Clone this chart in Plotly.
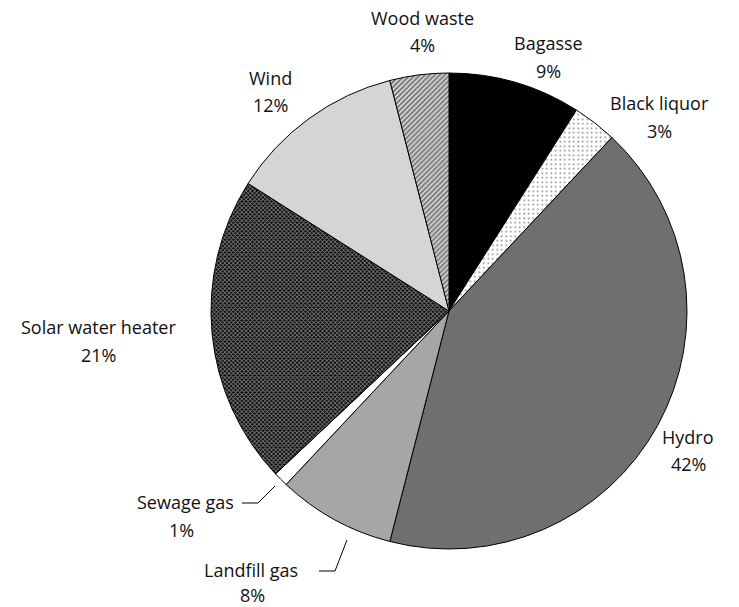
import plotly.graph_objects as go

# Share of renewable energy sources (percent)
sources = ["Bagasse", "Black liquor", "Hydro", "Landfill gas", "Sewage gas",
           "Solar water heater", "Wind", "Wood waste"]
shares = [9, 3, 42, 8, 1, 21, 12, 4]

W, H = 739, 607

# Slice fills and pattern overlays
fill_colors = ["#000000", "#ffffff", "#6f6f6f", "#a6a6a6", "#ffffff",
               "#000000", "#d5d5d5", "#ffffff"]
pattern_shapes = ["", ".", "", "", "", "x", "", "/"]
pattern_fg = ["#000000", "#000000", "#000000", "#000000", "#000000",
              "#ffffff", "#000000", "#000000"]
pattern_sizes = [6, 4.5, 6, 6, 6, 3, 6, 3.5]
pattern_solid = [0.3, 0.12, 0.3, 0.3, 0.3, 0.5, 0.3, 0.7]

# Pie placement in pixels (centre and radius)
cx, cy, r = 449, 311, 238

# Label anchor points (pixels): name line, then percent line
label_pos = {
    "Bagasse": (548, 43, 548, 71),
    "Black liquor": (659, 103, 659, 131),
    "Hydro": (688, 437, 688, 464),
    "Landfill gas": (251, 570, 253, 595),
    "Sewage gas": (185, 502, 181, 530),
    "Solar water heater": (98, 327, 98, 355),
    "Wind": (270, 78, 270, 105),
    "Wood waste": (422, 18, 422, 45),
}

# Leader lines (pixels) for the two small bottom slices
leaders = {
    "Sewage gas": [(242, 503), (258, 503), (275, 486)],
    "Landfill gas": [(319, 571), (335, 571), (347, 540)],
}


def px(x):
    return x / W


def py(y):
    return 1 - y / H


fig = go.Figure(go.Pie(
    labels=sources,
    values=shares,
    sort=False,
    direction="clockwise",
    rotation=0,
    textinfo="none",
    hoverinfo="label+percent",
    marker=dict(
        colors=fill_colors,
        line=dict(color="#000000", width=1),
        pattern=dict(
            shape=pattern_shapes,
            fgcolor=pattern_fg,
            bgcolor=fill_colors,
            size=pattern_sizes,
            solidity=pattern_solid,
            fillmode="overlay",
        ),
    ),
    domain=dict(x=[px(cx - r), px(cx + r)], y=[py(cy + r), py(cy - r)]),
    showlegend=False,
))

font = dict(family="Open Sans, sans-serif", size=18, color="#111111")
annotations = []
total = sum(shares)
for name, val in zip(sources, shares):
    nx, ny, vx, vy = label_pos[name]
    annotations.append(dict(x=px(nx), y=py(ny), xref="paper", yref="paper",
                            text=name, showarrow=False, font=font,
                            xanchor="center", yanchor="middle"))
    annotations.append(dict(x=px(vx), y=py(vy), xref="paper", yref="paper",
                            text=f"{round(val / total * 100)}%", showarrow=False,
                            font=font, xanchor="center", yanchor="middle"))

shapes = []
for name, pts in leaders.items():
    path = "M " + " L ".join(f"{px(x):.5f},{py(y):.5f}" for x, y in pts)
    shapes.append(dict(type="path", xref="paper", yref="paper", path=path,
                       line=dict(color="#000000", width=1)))

fig.update_layout(
    width=W, height=H,
    margin=dict(l=0, r=0, t=0, b=0),
    paper_bgcolor="#ffffff",
    plot_bgcolor="#ffffff",
    annotations=annotations,
    shapes=shapes,
)

fig.write_html("out.html")
